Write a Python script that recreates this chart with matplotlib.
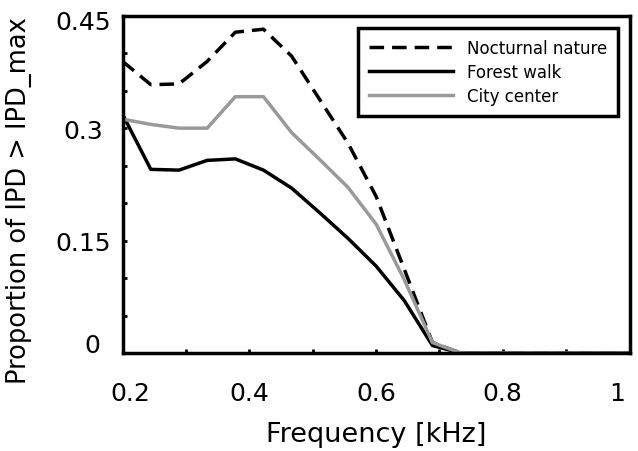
import matplotlib

matplotlib.use("Agg")
import matplotlib.pyplot as plt
import matplotlib.transforms as mtransforms

# Frequency bins [kHz]
freq = [0.2, 0.2444, 0.2889, 0.3333, 0.3778, 0.4222, 0.4667, 0.5111, 0.5556,
        0.6, 0.6444, 0.6889, 0.7333, 0.7778, 0.8222, 0.8667, 0.9111, 0.9556, 1.0]

nocturnal = [0.389, 0.358, 0.359, 0.389, 0.428, 0.432, 0.396, 0.338, 0.280,
             0.209, 0.112, 0.014, 0.0, 0.0, 0.0, 0.0, 0.0, 0.0, 0.0]
forest = [0.318, 0.245, 0.244, 0.257, 0.259, 0.244, 0.220, 0.187, 0.153,
          0.116, 0.070, 0.010, 0.0, 0.0, 0.0, 0.0, 0.0, 0.0, 0.0]
city = [0.312, 0.305, 0.300, 0.300, 0.342, 0.342, 0.294, 0.258, 0.221,
        0.172, 0.098, 0.014, 0.0, 0.0, 0.0, 0.0, 0.0, 0.0, 0.0]

xticks = [0.2, 0.3, 0.4, 0.5, 0.6, 0.7, 0.8, 0.9, 1.0]
xticklabels = ["0.2", "", "0.4", "", "0.6", "", "0.8", "", "1"]
yticks = [0, 0.05, 0.1, 0.15, 0.2, 0.25, 0.3, 0.35, 0.4, 0.45]
yticklabels = ["0", "", "", "0.15", "", "", "0.3", "", "", "0.45"]

fig = plt.figure(figsize=(6.38, 4.52), dpi=100)
ax = fig.add_axes([0.1923, 0.2168, 0.7944, 0.7462])

lw = 2.5
ax.plot(freq, nocturnal, color="black", lw=lw, dashes=(4.2, 2.3), label="Nocturnal nature")
ax.plot(freq, forest, color="black", lw=lw, label="Forest walk")
ax.plot(freq, city, color="#999999", lw=lw, label="City center")

ax.set_xlim(0.2, 1.0)
ax.set_ylim(0, 0.45)
ax.set_xticks(xticks, xticklabels)
ax.set_yticks(yticks, yticklabels)
ax.tick_params(direction="in", length=3, width=2, labelsize=18, top=False, right=False)
ax.tick_params(axis="x", pad=20)
ax.tick_params(axis="y", pad=28.6)
for lab in ax.get_yticklabels():
    lab.set_ha("center")

for s in ax.spines.values():
    s.set_linewidth(2.5)

# nudge end labels inward like the original figure
def nudge(lab, dx, dy):
    lab.set_transform(lab.get_transform() + mtransforms.ScaledTranslation(dx / 100, dy / 100, fig.dpi_scale_trans))

xl = ax.get_xticklabels()
nudge(xl[0], 8, 0)
nudge(xl[-1], -12, 0)
yl = ax.get_yticklabels()
nudge(yl[0], 9, 11)
nudge(yl[-1], 0, -4)

ax.set_xlabel("Frequency [kHz]", fontsize=19.5, labelpad=12)
ax.set_ylabel("Proportion of IPD > IPD_max", fontsize=18.5)
ax.yaxis.set_label_coords(-0.178, 0.455)

leg = ax.legend(loc="upper right", bbox_to_anchor=(0.977, 0.9635), borderaxespad=0,
                fontsize=12, fancybox=False, edgecolor="black", framealpha=1,
                handlelength=5.05, handletextpad=0.8, labelspacing=0.36, borderpad=0.65)
leg.get_frame().set_linewidth(2.5)

fig.savefig("out.png", dpi=100)
